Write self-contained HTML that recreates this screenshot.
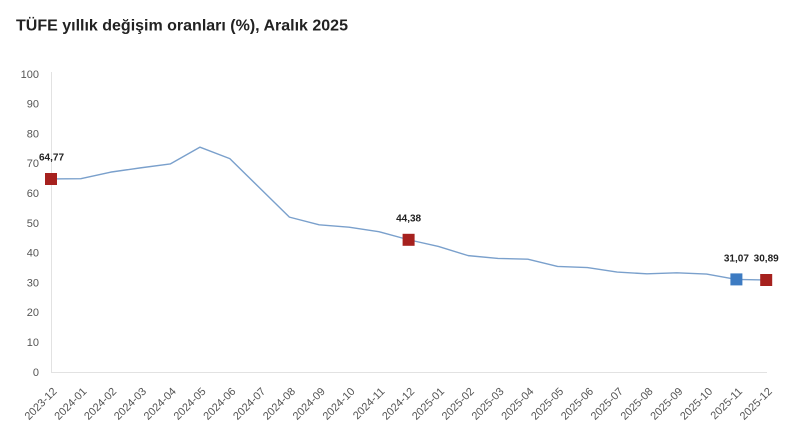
<!DOCTYPE html>
<html>
<head>
<meta charset="utf-8">
<style>
html,body{margin:0;padding:0;background:#fff;}
svg{display:block;font-family:"Liberation Sans",Arial,sans-serif;}
</style>
</head>
<body>
<svg width="800" height="442" viewBox="0 0 800 442" xmlns="http://www.w3.org/2000/svg">
<rect width="800" height="442" fill="#fff"/>
<text x="16" y="30.5" font-size="16" font-weight="bold" fill="#222">TÜFE yıllık değişim oranları (%), Aralık 2025</text>

<!-- axes -->
<line x1="51.5" y1="72" x2="51.5" y2="372" stroke="#e2e2e2" stroke-width="1"/>
<line x1="51" y1="372.5" x2="767" y2="372.5" stroke="#e2e2e2" stroke-width="1"/>

<!-- y tick labels -->
<g font-size="11" fill="#555" text-anchor="end">
<text x="39" y="77.8">100</text>
<text x="39" y="107.6">90</text>
<text x="39" y="137.4">80</text>
<text x="39" y="167.2">70</text>
<text x="39" y="197">60</text>
<text x="39" y="226.8">50</text>
<text x="39" y="256.6">40</text>
<text x="39" y="286.4">30</text>
<text x="39" y="316.2">20</text>
<text x="39" y="346">10</text>
<text x="39" y="375.8">0</text>
</g>

<!-- x tick labels -->
<g font-size="11" fill="#555" text-anchor="end">
<text transform="translate(57.5,392) rotate(-45)">2023-12</text>
<text transform="translate(87.3,392) rotate(-45)">2024-01</text>
<text transform="translate(117.1,392) rotate(-45)">2024-02</text>
<text transform="translate(146.9,392) rotate(-45)">2024-03</text>
<text transform="translate(176.7,392) rotate(-45)">2024-04</text>
<text transform="translate(206.5,392) rotate(-45)">2024-05</text>
<text transform="translate(236.3,392) rotate(-45)">2024-06</text>
<text transform="translate(266.1,392) rotate(-45)">2024-07</text>
<text transform="translate(295.9,392) rotate(-45)">2024-08</text>
<text transform="translate(325.7,392) rotate(-45)">2024-09</text>
<text transform="translate(355.5,392) rotate(-45)">2024-10</text>
<text transform="translate(385.3,392) rotate(-45)">2024-11</text>
<text transform="translate(415.1,392) rotate(-45)">2024-12</text>
<text transform="translate(444.9,392) rotate(-45)">2025-01</text>
<text transform="translate(474.7,392) rotate(-45)">2025-02</text>
<text transform="translate(504.5,392) rotate(-45)">2025-03</text>
<text transform="translate(534.3,392) rotate(-45)">2025-04</text>
<text transform="translate(564.1,392) rotate(-45)">2025-05</text>
<text transform="translate(593.9,392) rotate(-45)">2025-06</text>
<text transform="translate(623.7,392) rotate(-45)">2025-07</text>
<text transform="translate(653.5,392) rotate(-45)">2025-08</text>
<text transform="translate(683.3,392) rotate(-45)">2025-09</text>
<text transform="translate(713.1,392) rotate(-45)">2025-10</text>
<text transform="translate(742.9,392) rotate(-45)">2025-11</text>
<text transform="translate(772.7,392) rotate(-45)">2025-12</text>
</g>

<!-- series line -->
<polyline fill="none" stroke="#7aa0cc" stroke-width="1.4" stroke-linejoin="round"
points="51,178.98 80.8,178.72 110.6,172.13 140.4,167.87 170.2,163.99 200,147.16 229.8,158.63 259.6,187.90 289.4,217.13 319.2,224.85 349,227.23 378.8,231.67 408.6,239.75 438.4,246.48 468.2,255.63 498,258.46 527.8,259.18 557.6,266.48 587.4,267.55 617.2,272.11 647,273.81 676.8,272.80 706.6,274.05 736.4,279.41 766.2,279.95"/>

<!-- markers -->
<rect x="45" y="173" width="12" height="12" fill="#a6211e"/>
<rect x="402.6" y="233.8" width="12" height="12" fill="#a6211e"/>
<rect x="730.4" y="273.4" width="12" height="12" fill="#3d7bc2"/>
<rect x="760.2" y="274" width="12" height="12" fill="#a6211e"/>

<!-- data labels -->
<g font-size="10" font-weight="bold" fill="#222" text-anchor="middle">
<text x="51.5" y="160.5">64,77</text>
<text x="408.6" y="221.5">44,38</text>
<text x="736.4" y="261.5">31,07</text>
<text x="766.2" y="261.5">30,89</text>
</g>
</svg>
</body>
</html>
